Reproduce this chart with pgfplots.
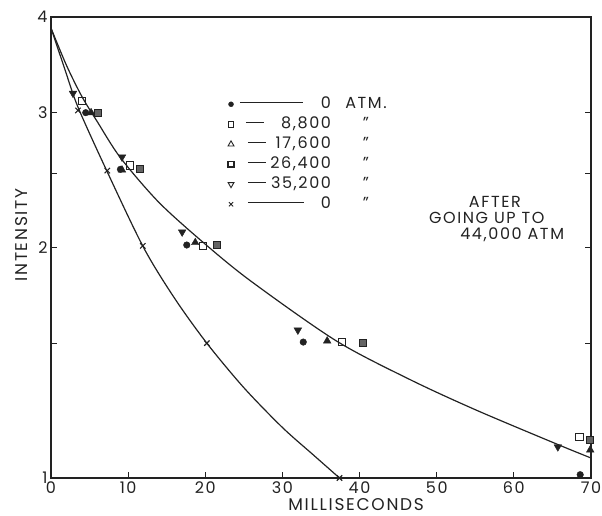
\documentclass[border=0pt]{standalone}
\usepackage{pgfplots}
\pgfplotsset{compat=1.18}
\usepackage{fontspec}
\setmainfont{Poppins}[LetterSpace=10]
\definecolor{ink}{HTML}{222222}
\newcommand{\LE}[4]{\makebox[96pt][l]{\hspace*{#1pt}\textcolor{ink}{\rule[0.33em]{#2pt}{0.9pt}}}\llap{#3}\makebox[70pt][c]{#4}}
\begin{document}
\begin{tikzpicture}
\begin{axis}[
  at={(0pt,0pt)}, anchor=south west,
  width=540pt, height=461pt, scale only axis,
  ymode=log, xmin=0, xmax=70, ymin=1, ymax=4,
  xtick={0,10,...,70},
  ytick={1,1.5,2,2.5,3,4}, yticklabels={1,,2,,3,4},
  yminorticks=false,
  tick align=inside, xtick pos=bottom, ytick pos=both,
  major tick length=6pt,
  axis line style={ink, line width=1.1pt},
  tick style={ink, line width=1pt},
  ticklabel style={font=\fontsize{16}{18}\selectfont, text=ink},
  /pgf/number format/assume math mode=true,
  xlabel={MILLISECONDS},
  xlabel style={at={(rel axis cs:0.565,-0.058)}, anchor=center, font=\fontsize{17}{19}\selectfont, text=ink},
  ylabel={INTENSITY},
  ylabel style={at={(rel axis cs:-0.054,0.527)}, anchor=center, font=\fontsize{17}{19}\selectfont, text=ink},
  clip=false,
  legend cell align=left,
  legend style={at={(rel axis cs:0.322,0.835)}, anchor=north west, draw=none, fill=none,
    font=\fontsize{16}{18}\selectfont, text=ink, row sep=2pt,
    nodes={inner sep=1pt, text height=12pt, text depth=4pt}},
]
% fitted curves
\addplot[ink, line width=1.2pt, smooth, forget plot] coordinates {
 (0,3.87) (2,3.46) (4,3.15) (6,2.92) (9,2.62) (14,2.29) (20,2.02) (26,1.805)
 (37,1.51) (46.5,1.345) (55,1.228) (65.7,1.106) (70,1.062)};
\addplot[ink, line width=1.2pt, smooth, forget plot] coordinates {
 (0,3.87) (1.75,3.43) (3.5,3.05) (7.3,2.51) (12,2.0) (16,1.718) (20.2,1.50)
 (25,1.312) (30,1.164) (34,1.072) (37.4,1.0)};
% 0 atm
\addplot[only marks, mark=*, mark size=3.3pt, mark options={fill=ink, draw=ink}, forget plot] coordinates {
 (4.5,3.00) (9.0,2.53) (17.6,2.015) (32.7,1.505) (68.6,1.01)};
% 8800
\addplot[only marks, mark=square, mark size=3.6pt, mark options={draw=ink, line width=1pt, fill=white}, forget plot] coordinates {
 (4.0,3.11) (10.2,2.56) (19.7,2.01) (37.7,1.505) (68.5,1.13)};
% 17600
\addplot[only marks, mark=triangle*, mark size=4.4pt, mark options={fill=ink, draw=ink}, forget plot] coordinates {
 (5.2,3.00) (9.2,2.525) (18.7,2.03) (35.8,1.51) (69.9,1.088)};
% 26400
\addplot[only marks, mark=square*, mark size=3.6pt, mark options={fill=ink!70, draw=ink, line width=1pt}, forget plot] coordinates {
 (6.1,3.00) (11.5,2.53) (21.5,2.015) (40.4,1.50) (69.9,1.12)};
% 35200
\addplot[only marks, mark=triangle*, mark size=4.4pt, mark options={fill=ink, draw=ink, rotate=180}, forget plot] coordinates {
 (2.85,3.18) (9.2,2.625) (17.0,2.095) (32.0,1.56) (65.7,1.098)};
% 0 after 44000
\addplot[only marks, mark=x, mark size=3.8pt, mark options={draw=ink, line width=1.1pt}, forget plot] coordinates {
 (3.5,3.02) (7.3,2.52) (11.9,2.01) (20.2,1.50) (37.4,1.0)};
% legend
\addlegendimage{only marks, mark=*, mark size=2.5pt, mark options={fill=ink, draw=ink}}
\addlegendentry{\LE{5}{63}{0}{ATM.}}
\addlegendimage{only marks, mark=square, mark size=2.8pt, mark options={draw=ink, line width=0.9pt}}
\addlegendentry{\LE{11}{18}{8,800}{''}}
\addlegendimage{only marks, mark=triangle, mark size=3.4pt, mark options={draw=ink, line width=0.9pt}}
\addlegendentry{\LE{13}{18}{17,600}{''}}
\addlegendimage{only marks, mark=square, mark size=2.8pt, mark options={draw=ink, line width=1.6pt}}
\addlegendentry{\LE{13}{18}{26,400}{''}}
\addlegendimage{only marks, mark=triangle, mark size=3.4pt, mark options={draw=ink, line width=0.9pt, rotate=180}}
\addlegendentry{\LE{13}{18}{35,200}{''}}
\addlegendimage{only marks, mark=x, mark size=3pt, mark options={draw=ink, line width=0.9pt}}
\addlegendentry{\LE{13}{56}{0}{''}}
% annotation
\node[font=\fontsize{16}{18}\selectfont, text=ink] at (rel axis cs:0.822,0.599) {AFTER};
\node[font=\fontsize{16}{18}\selectfont, text=ink] at (rel axis cs:0.807,0.564) {GOING UP TO};
\node[font=\fontsize{16}{18}\selectfont, text=ink] at (rel axis cs:0.854,0.527) {44,000 ATM};
\end{axis}
\pgfresetboundingbox
\path (-51pt,-38pt) rectangle (551pt,478pt);
\end{tikzpicture}
\end{document}
